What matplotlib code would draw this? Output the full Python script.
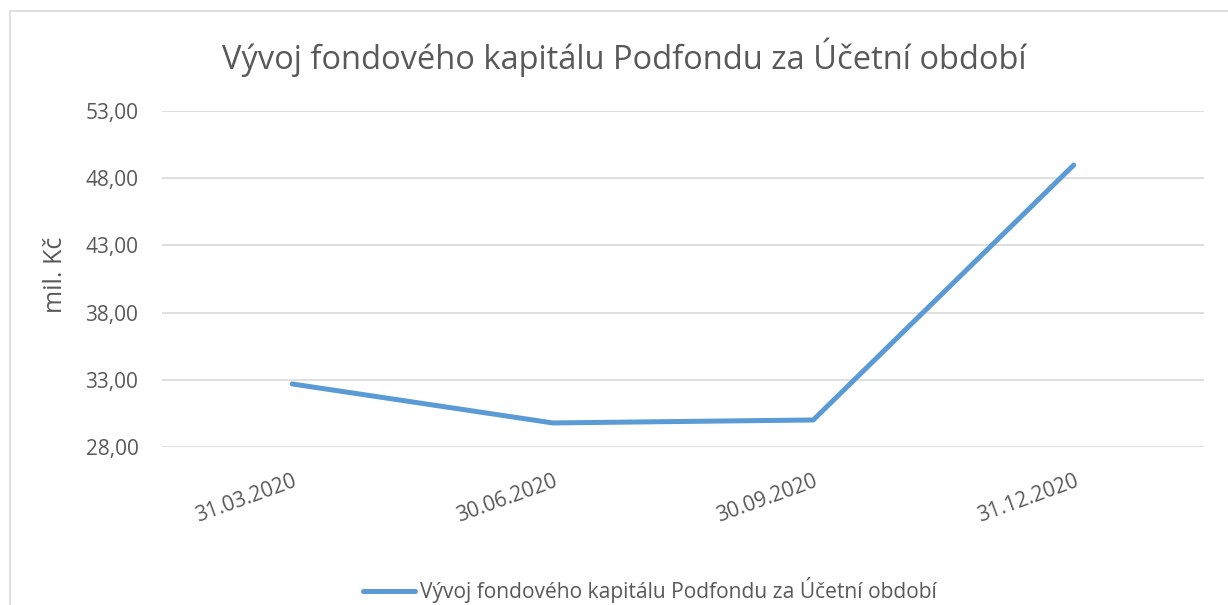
import matplotlib.pyplot as plt
import matplotlib.patches as patches
from matplotlib.ticker import FuncFormatter

# Données
dates = ['31.03.2020', '30.06.2020', '30.09.2020', '31.12.2020']
kapital = [32.69, 29.79, 30.01, 48.98]
y_ticks = [28, 33, 38, 43, 48, 53]

titre = 'Vývoj fondového kapitálu Podfondu za Účetní období'
gris = '#595959'
bleu = '#5B9BD5'

plt.rcParams['font.family'] = ['Open Sans', 'DejaVu Sans']

fig = plt.figure(figsize=(12.28, 6.05), dpi=100)
ax = fig.add_axes([162 / 1228, 1 - 447 / 605, 1042 / 1228, 336 / 605])

# Cadre du graphique
cadre = patches.Rectangle((10 / 1228, -0.05), 1.2, 1 - 11 / 605 + 0.05,
                          transform=fig.transFigure, fill=False,
                          edgecolor='#D9D9D9', linewidth=1.2)
fig.patches.append(cadre)

x = range(len(dates))
ax.plot(x, kapital, color=bleu, linewidth=3.6, solid_capstyle='round',
        solid_joinstyle='round', label=titre)

ax.set_xlim(-0.5, len(dates) - 0.5)
ax.set_ylim(y_ticks[0], y_ticks[-1])
ax.set_yticks(y_ticks)
ax.yaxis.set_major_formatter(FuncFormatter(lambda v, p: f'{v:.2f}'.replace('.', ',')))
ax.set_xticks(list(x))
ax.set_xticklabels(dates, rotation=20, ha='right', va='top',
                   rotation_mode='anchor')

ax.grid(True, axis='y', color='#D9D9D9', linewidth=1.2)
ax.set_axisbelow(True)
for s in ax.spines.values():
    s.set_visible(False)
ax.tick_params(axis='both', length=0, labelsize=15, colors=gris)
ax.tick_params(axis='y', pad=17)
ax.tick_params(axis='x', pad=17)

ax.set_ylabel('mil. Kč', fontsize=18, color=gris)
ax.yaxis.set_label_coords((68 - 162) / 1042, (447 - 275) / 336)
fig.text(624 / 1228, 1 - 57 / 605, titre, ha='center', va='center',
         fontsize=23.5, color=gris)

fig.legend(loc='center', bbox_to_anchor=(650 / 1228, 1 - 590 / 605), frameon=False,
           fontsize=15.1, labelcolor=gris, handlelength=2.5, handletextpad=0.25)

fig.savefig('out.png', dpi=100, facecolor='white')
